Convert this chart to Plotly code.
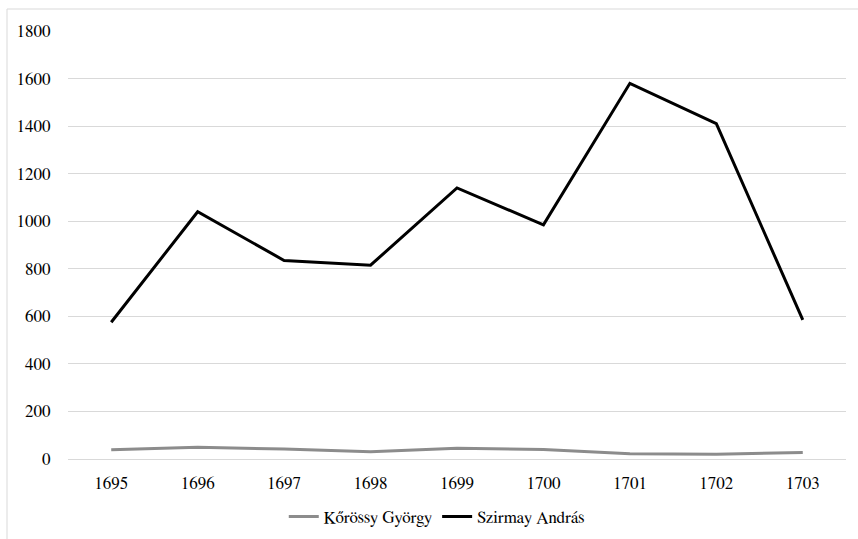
import plotly.graph_objects as go

years = ["1695", "1696", "1697", "1698", "1699", "1700", "1701", "1702", "1703"]
korossy = [39, 49, 42, 31, 45, 40, 22, 20, 27]
szirmay = [575, 1040, 835, 815, 1140, 985, 1580, 1410, 585]
y_ticks = [0, 200, 400, 600, 800, 1000, 1200, 1400, 1600, 1800]

FONT = "Nimbus Roman, FreeSerif, Tinos, Liberation Serif, DejaVu Serif"
FS = 17
GRID = "#d9d9d9"

fig = go.Figure()
fig.add_trace(go.Scatter(
    x=years, y=korossy, mode="lines", name="Kőrössy György",
    line=dict(color="#8c8c8c", width=3),
))
fig.add_trace(go.Scatter(
    x=years, y=szirmay, mode="lines", name="Szirmay András",
    line=dict(color="#000000", width=3),
))

W, H = 858, 539
L, R, T, B = 68, 12, 31, 80
pw, ph = W - L - R, H - T - B

# outer chart frame (left/top visible, right/bottom run off the page)
fig.add_shape(
    type="rect", xref="paper", yref="paper",
    x0=(7 - L) / pw, x1=(W + 20 - L) / pw,
    y0=-(H + 20 - (T + ph)) / ph, y1=(T + ph - 9) / ph,
    line=dict(color=GRID, width=1), fillcolor="rgba(0,0,0,0)", layer="below",
)

fig.update_layout(
    width=W, height=H,
    margin=dict(l=L, r=R, t=T, b=B, autoexpand=False),
    paper_bgcolor="white", plot_bgcolor="white",
    font=dict(family=FONT, size=FS, color="#000000"),
    showlegend=True,
    legend=dict(
        orientation="h", x=0.474, xanchor="center",
        y=(T + ph - 517) / ph, yanchor="middle",
        font=dict(family=FONT, size=FS, color="#000000"),
        itemwidth=30,
    ),
    xaxis=dict(
        type="category", showgrid=False, zeroline=False, showline=False,
        ticks="outside", ticklen=9, tickcolor="rgba(0,0,0,0)",
        tickfont=dict(family=FONT, size=FS),
        range=[-0.5, len(years) - 0.5],
    ),
    yaxis=dict(
        range=[0, 1800], tickvals=y_ticks,
        showgrid=True, gridcolor=GRID, gridwidth=1,
        zeroline=True, zerolinecolor=GRID, zerolinewidth=1,
        showline=False,
        ticks="outside", ticklen=13, tickcolor="rgba(0,0,0,0)",
        tickfont=dict(family=FONT, size=FS),
    ),
)

fig.write_html("out.html")
